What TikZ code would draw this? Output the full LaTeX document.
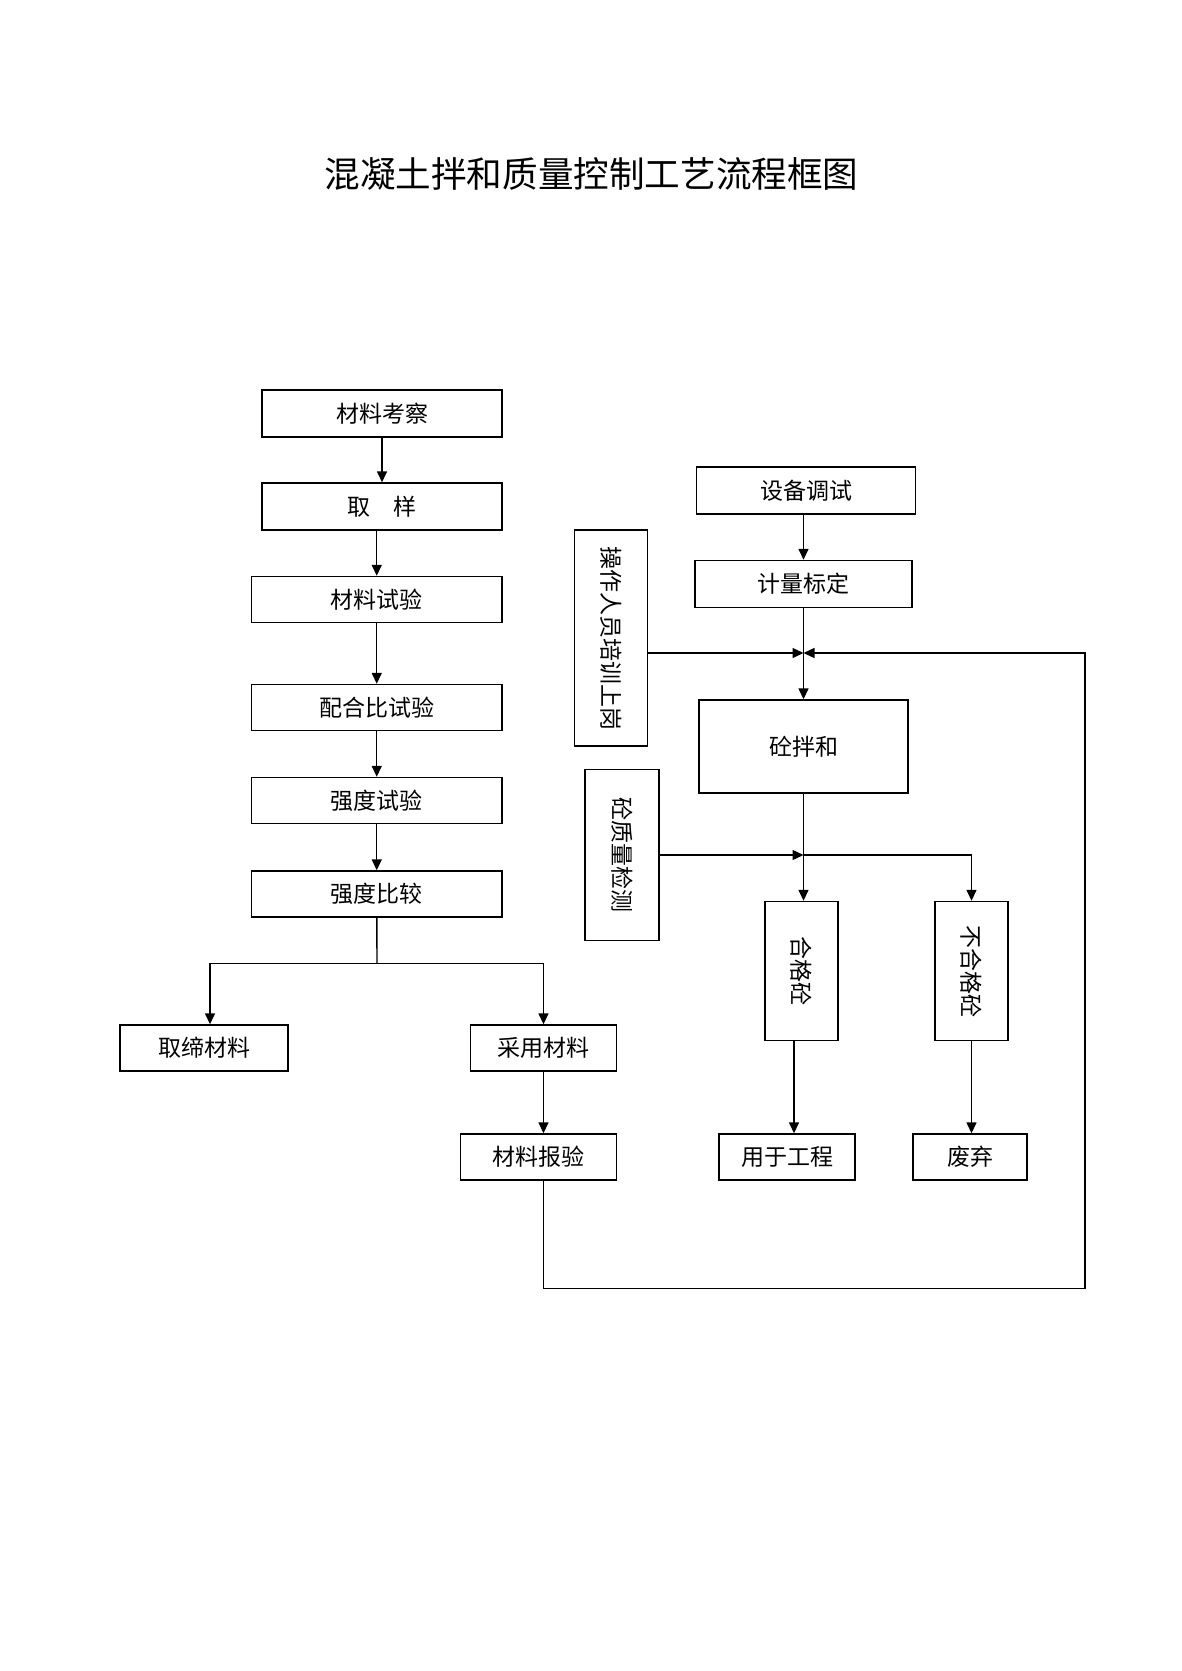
\documentclass[tikz,border=0pt]{standalone}
\usepackage{fontspec}
\newfontfamily\cjk{Noto Sans CJK SC}
\usetikzlibrary{arrows.meta}
\tikzset{
	box/.style={draw, line width=0.7pt, inner sep=0pt, font=\cjk\fontsize{11.5}{14}\selectfont},
	arr/.style={line width=0.7pt, -{Triangle[length=5.5pt,width=5pt]}},
	line/.style={line width=0.7pt}
}
\begin{document}
\begin{tikzpicture}[x=0.5pt,y=-0.5pt]
	\useasboundingbox (0,0) rectangle (1182,1671);
	\node (title) at (591.5,174) {\cjk\fontsize{17.8}{21}\selectfont 混凝土拌和质量控制工艺流程框图};
	\node[box, minimum width=120pt, minimum height=23.5pt] (kc) at (382,413.5) {材料考察};
	\node[box, minimum width=120pt, minimum height=23.5pt] (qy) at (382,506.5) {取　样};
	\node[box, minimum width=125.25pt, minimum height=23pt] (sy) at (376.75,599.5) {材料试验};
	\node[box, minimum width=125.25pt, minimum height=23pt] (phb) at (376.75,707.5) {配合比试验};
	\node[box, minimum width=125.25pt, minimum height=23pt] (qdsy) at (376.75,800.5) {强度试验};
	\node[box, minimum width=125.25pt, minimum height=23pt] (qdbj) at (376.75,894) {强度比较};
	\node[box, minimum width=84pt, minimum height=23pt] (qd) at (204,1048) {取缔材料};
	\node[box, minimum width=73pt, minimum height=23pt] (cy) at (543.5,1048) {采用材料};
	\node[box, minimum width=78pt, minimum height=23pt] (bj) at (538.5,1157) {材料报验};
	\node[box, minimum width=109.25pt, minimum height=23.5pt] (ts) at (806,490.5) {设备调试};
	\node[box, minimum width=108.5pt, minimum height=23.5pt] (bd) at (803.5,584) {计量标定};
	\node[box, minimum width=36.75pt, minimum height=108pt] (pxsg) at (611,638) {\rotatebox{-90}{操作人员培训上岗}};
	\node[box, minimum width=104.5pt, minimum height=46.5pt] (bh) at (803.5,746.5) {\raisebox{-3pt}{砼拌和}};
	\node[box, minimum width=37pt, minimum height=85.25pt] (jc) at (622,855) {\rotatebox{-90}{砼质量检测}};
	\node[box, minimum width=36.5pt, minimum height=69.5pt] (hg) at (801.5,971) {\rotatebox{-90}{合格砼}};
	\node[box, minimum width=36.5pt, minimum height=69.5pt] (bhg) at (971.5,971) {\rotatebox{-90}{不合格砼}};
	\node[box, minimum width=68pt, minimum height=23pt] (gc) at (787,1157) {用于工程};
	\node[box, minimum width=57pt, minimum height=23pt] (fq) at (970,1157) {废弃};
	\coordinate (fz) at (377,963.5);
	\coordinate (hj) at (803.5,653);
	\coordinate (fk) at (1085,1288.5);
	\coordinate (jj) at (bh.south |- jc.east);
	\coordinate (hgout) at ([xshift=-3.75pt]hg.south);
	\draw[arr] (kc) -- (qy);
	\draw[arr] (qy.south -| sy) -- (sy.north);
	\draw[arr] (sy) -- (phb);
	\draw[arr] (phb) -- (qdsy);
	\draw[arr] (qdsy) -- (qdbj);
	\draw[line] (qdbj) -- (fz);
	\draw[arr] (fz) -| ([xshift=3pt]qd.north);
	\draw[arr] (fz) -| (cy.north);
	\draw[arr] (cy) -- (cy.south |- bj.north);
	\draw[arr] (bj.south -| cy) |- (fk) |- (hj);
	\draw[arr] (ts.south -| bd) -- (bd.north);
	\draw[arr] (bd) -- (bh);
	\draw[arr] (pxsg.east |- hj) -- (hj);
	\draw[arr] (bh.south) -- (bh.south |- hg.north);
	\draw[arr] (jc.east) -- (jj);
	\draw[arr] (jj) -| (bhg.north);
	\draw[arr] (hgout) -- (hgout |- gc.north);
	\draw[arr] (bhg) -- (bhg.south |- fq.north);
\end{tikzpicture}
\end{document}
